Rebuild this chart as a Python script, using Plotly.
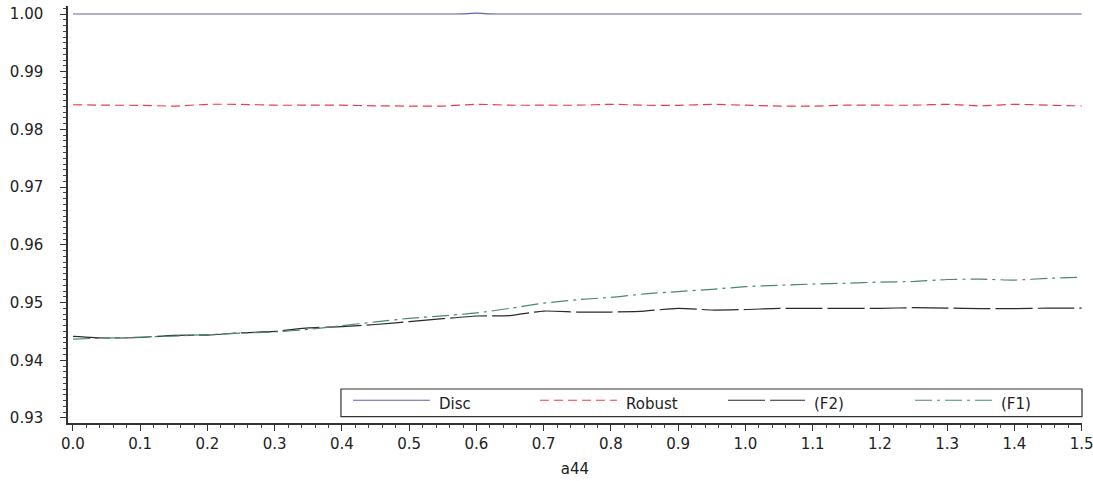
import plotly.graph_objects as go

# a44 grid shared by the Robust, (F2) and (F1) curves
a44 = [round(0.05 * i, 2) for i in range(31)]

# Disc stays at 1 apart from a small blip near a44 = 0.6
disc_a44 = [0.0, 0.56, 0.58, 0.60, 0.62, 0.64, 1.5]
disc = [1.0000, 1.0000, 1.00003, 1.00016, 1.00003, 1.0000, 1.0000]

robust = [0.98428, 0.98420, 0.98418, 0.98405, 0.98435, 0.98435, 0.98420, 0.98420,
          0.98420, 0.98410, 0.98405, 0.98405, 0.98435, 0.98420, 0.98420, 0.98420,
          0.98435, 0.98420, 0.98418, 0.98435, 0.98420, 0.98405, 0.98405, 0.98420,
          0.98420, 0.98420, 0.98435, 0.98408, 0.98435, 0.98420, 0.98408]

f2 = [0.94415, 0.94386, 0.94395, 0.94432, 0.94437, 0.94475, 0.94500, 0.94560,
      0.94582, 0.94620, 0.94670, 0.94720, 0.94767, 0.94775, 0.94853, 0.94836,
      0.94836, 0.94853, 0.94900, 0.94871, 0.94880, 0.94900, 0.94900, 0.94900,
      0.94900, 0.94911, 0.94905, 0.94894, 0.94894, 0.94905, 0.94905]

f1 = [0.94368, 0.94385, 0.94400, 0.94420, 0.94445, 0.94470, 0.94492, 0.94535,
      0.94600, 0.94665, 0.94727, 0.94770, 0.94820, 0.94900, 0.94990, 0.95050,
      0.95090, 0.95150, 0.95190, 0.95230, 0.95275, 0.95300, 0.95320, 0.95335,
      0.95355, 0.95365, 0.95400, 0.95405, 0.95390, 0.95420, 0.95437]

x_ticks = [round(0.1 * i, 1) for i in range(16)]
x_tick_labels = [f"{v:.1f}" for v in x_ticks]
y_ticks = [0.93, 0.94, 0.95, 0.96, 0.97, 0.98, 0.99, 1.00]
y_tick_labels = [f"{v:.2f}" for v in y_ticks]

names = ["Disc", "Robust", "(F2)", "(F1)"]
colors = ["#5f62aa", "#ee3b4b", "#2a2a2a", "#4a8a6b"]
dashes = ["solid", "9px,5px", "37px,5px", "17px,5px,3px,5px"]

FONT = "DejaVu Sans, Liberation Sans, Arial, sans-serif"
TXT = "#222222"

fig = go.Figure()
series = [(disc_a44, disc), (a44, robust), (a44, f2), (a44, f1)]
for (xs, ys), name, col, dash in zip(series, names, colors, dashes):
    fig.add_trace(go.Scatter(
        x=xs, y=ys, mode="lines", name=name,
        line=dict(color=col, width=1.2, dash=dash, shape="spline", smoothing=0.6),
        showlegend=False, cliponaxis=False,
    ))

# boxed legend along the bottom of the plot area (paper coordinates)
shapes = [dict(type="rect", xref="paper", yref="paper",
               x0=0.2692, x1=1.0, y0=0.0155, y1=0.0815,
               line=dict(color="#333333", width=1.2), fillcolor="white", layer="above")]
annotations = []
line_x0 = [0.2811, 0.4655, 0.6509, 0.8353]
for x0, name, col, dash in zip(line_x0, names, colors, dashes):
    shapes.append(dict(type="line", xref="paper", yref="paper",
                       x0=x0, x1=x0 + 0.0759, y0=0.0545, y1=0.0545,
                       line=dict(color=col, width=1.2, dash=dash), layer="above"))
    annotations.append(dict(xref="paper", yref="paper", x=x0 + 0.0828, y=0.046,
                            xanchor="left", yanchor="middle", showarrow=False,
                            text=name, font=dict(family=FONT, size=15, color=TXT)))

fig.update_layout(
    width=1093, height=481,
    margin=dict(l=68, r=11, t=6, b=58, autoexpand=False),
    paper_bgcolor="white", plot_bgcolor="white",
    font=dict(family=FONT, size=15, color=TXT),
    shapes=shapes, annotations=annotations,
    showlegend=False,
)

fig.update_xaxes(
    range=[-0.0074, 1.5005], tickmode="array", tickvals=x_ticks, ticktext=x_tick_labels,
    ticklabeloverflow="allow", automargin=False,
    showgrid=False, zeroline=False, showline=True, linecolor="#333333", linewidth=1.5,
    ticks="outside", ticklen=6, tickwidth=1.3, tickcolor="#333333",
    minor=dict(dtick=0.02, tick0=0, ticks="outside", ticklen=3, tickwidth=1, tickcolor="#444444"),
    tickfont=dict(family=FONT, size=15, color=TXT),
    title=dict(text="a44", font=dict(family=FONT, size=15, color=TXT), standoff=12),
)
fig.update_yaxes(
    range=[0.92913, 1.00139], tickmode="array", tickvals=y_ticks, ticktext=y_tick_labels,
    automargin=False,
    showgrid=False, zeroline=False, showline=True, linecolor="#333333", linewidth=1.5,
    ticks="outside", ticklen=6, tickwidth=1.3, tickcolor="#333333",
    minor=dict(dtick=0.001, tick0=0.93, ticks="outside", ticklen=3, tickwidth=1, tickcolor="#444444"),
    tickfont=dict(family=FONT, size=15, color=TXT),
    ticklabelstandoff=14,
)

fig.write_html("out.html")
